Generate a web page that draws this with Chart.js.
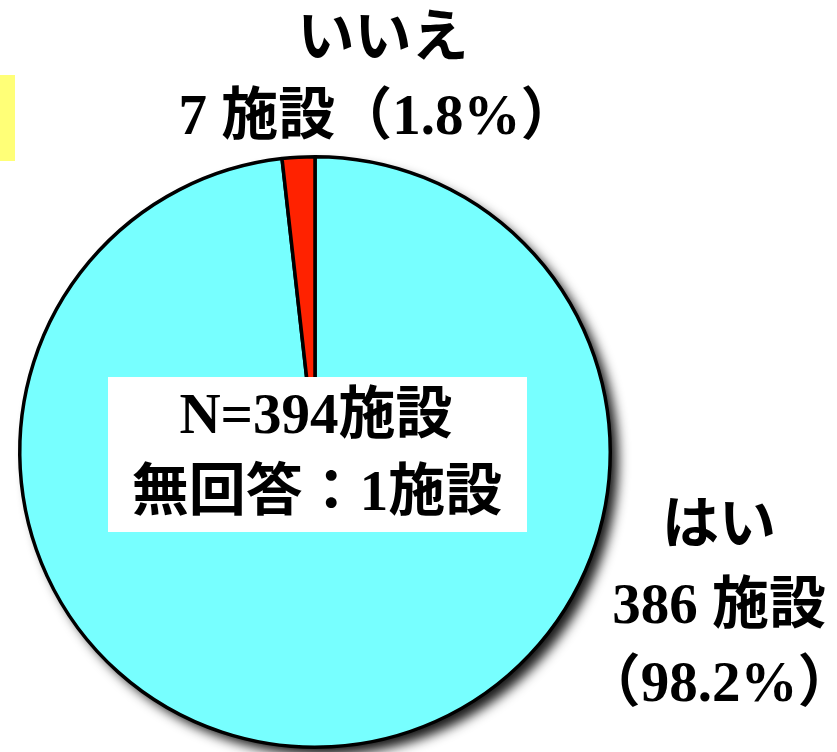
<!DOCTYPE html>
<html>
<head>
<meta charset="utf-8">
<script src="https://cdn.jsdelivr.net/npm/chart.js@4"></script>
<style>
  html, body { margin: 0; padding: 0; background: #fff; }
  #wrap { position: relative; width: 837px; height: 752px; }
  #mark { position: absolute; left: 0; top: 75px; width: 15px; height: 86px; background: #ffff77; }
</style>
</head>
<body>
<div id="wrap">
  <div id="mark"></div>
  <canvas id="chartPie" width="837" height="752"></canvas>
</div>
<script>
const categories = ['はい', 'いいえ'];
const counts = [386, 7];
const percents = ['98.2%', '1.8%'];
const colors = ['#77ffff', '#ff2200'];
const noteLines = ['N=394施設', '無回答：1施設'];

const FONT = 'bold 57px "Liberation Serif", "Noto Sans CJK JP", serif';

// soft shadow behind the whole pie
const shadowPlugin = {
    id: 'pieShadow',
    beforeDatasetsDraw(chart) {
        const arc = chart.getDatasetMeta(0).data[0];
        const ctx = chart.ctx;
        ctx.save();
        ctx.shadowColor = 'rgba(0,0,0,0.9)';
        ctx.shadowBlur = 12;
        ctx.shadowOffsetX = 8;
        ctx.shadowOffsetY = 8;
        ctx.beginPath();
        ctx.arc(arc.x, arc.y, arc.outerRadius, 0, Math.PI * 2);
        ctx.fillStyle = '#000';
        ctx.fill();
        ctx.restore();
    }
};

const labelPlugin = {
    id: 'pieLabels',
    afterDatasetsDraw(chart) {
        const ctx = chart.ctx;
        const arc = chart.getDatasetMeta(0).data[0];
        const cx = arc.x, cy = arc.y, r = arc.outerRadius;
        ctx.save();
        ctx.font = FONT;
        ctx.fillStyle = '#000';
        ctx.textAlign = 'center';
        ctx.textBaseline = 'middle';

        // いいえ label above the pie
        ctx.fillText(categories[1], cx + 68, cy - r - 115);
        ctx.fillText(counts[1] + ' 施設（' + percents[1] + '）', cx + 63, cy - r - 37);

        // はい label to the right
        ctx.fillText(categories[0], cx + 404, cy + 76);
        ctx.fillText(counts[0] + ' 施設', cx + 404, cy + 156);
        ctx.fillText('（' + percents[0] + '）', cx + 404, cy + 234);

        // white note box
        ctx.fillStyle = '#fff';
        ctx.fillRect(cx - 207, cy - 75, 419, 155);
        ctx.fillStyle = '#000';
        ctx.fillText(noteLines[0], cx + 1, cy - 34);
        ctx.fillText(noteLines[1], cx + 2, cy + 43);
        ctx.restore();
    }
};

const ctxPie = document.getElementById('chartPie').getContext('2d');
const chartPie = new Chart(ctxPie, {
    type: 'pie',
    data: {
        labels: categories,
        datasets: [{
            data: counts,
            backgroundColor: colors,
            borderColor: '#000',
            borderWidth: 3.5
        }]
    },
    options: {
        responsive: false,
        animation: false,
        layout: {
            padding: { left: 18, right: 225, top: 155, bottom: 3 }
        },
        plugins: {
            legend: { display: false },
            tooltip: { enabled: false }
        }
    },
    plugins: [shadowPlugin, labelPlugin]
});
</script>
</body>
</html>
